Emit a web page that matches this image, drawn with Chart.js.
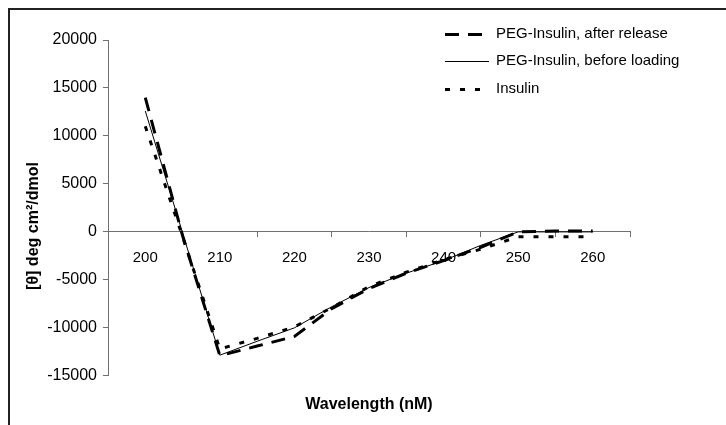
<!DOCTYPE html>
<html>
<head>
<meta charset="utf-8">
<script src="https://cdn.jsdelivr.net/npm/chart.js"></script>
<style>
  html, body { margin: 0; padding: 0; background: #fff; }
  #wrap { width: 726px; height: 425px; }
</style>
</head>
<body>
<div id="wrap"><canvas id="grafico" width="726" height="425"></canvas></div>
<script>
// ------ Dados ------
const comprimentos = [200, 205, 210, 215, 220, 225, 230, 235, 240, 245, 250, 255, 260];
const aposLiberacao = [14000, -400, -12900, -11900, -10900, -8000, -5900, -4300, -3000, -1600, 0, 100, 100];
const antesCarga = [12600, -100, -12850, -11400, -10000, -7800, -5800, -4300, -3000, -1400, 0, 0, 0];
const insulina = [11000, -500, -12200, -11100, -9900, -7900, -5700, -4200, -2900, -1800, -500, -500, -500];
const nomesSeries = ["PEG-Insulin, after release", "PEG-Insulin, before loading", "Insulin"];
const tituloY = "[θ] deg cm²/dmol";
const tituloX = "Wavelength (nM)";

const FONTE = "'Liberation Sans', Arial, sans-serif";
const CINZA = "#707070";

function pontos(valores) {
  return comprimentos.map((x, i) => ({ x: x, y: valores[i] }));
}

// moldura (só esquerda e topo aparecem no recorte)
const moldura = {
  id: "moldura",
  beforeDraw(chart) {
    const c = chart.ctx;
    c.save();
    c.strokeStyle = "#222";
    c.lineWidth = 2;
    c.beginPath();
    c.moveTo(9, 425);
    c.lineTo(9, 9);
    c.lineTo(726, 9);
    c.stroke();
    c.restore();
  },
};

// título do eixo Y, um pouco abaixo do centro como no original
const tituloEixoY = {
  id: "tituloEixoY",
  afterDraw(chart) {
    const c = chart.ctx;
    c.save();
    c.translate(34, 226);
    c.rotate(-Math.PI / 2);
    c.fillStyle = "#000";
    c.font = "bold 16px " + FONTE;
    c.textAlign = "center";
    c.textBaseline = "middle";
    c.fillText(tituloY, 0, 0);
    c.restore();
  },
};

// legenda desenhada à mão, no canto superior direito
const legenda = {
  id: "legenda",
  afterDraw(chart) {
    const c = chart.ctx;
    const linhas = [34, 61, 89];
    c.save();
    chart.data.datasets.forEach((ds, i) => {
      const y = linhas[i];
      // linha fina fica nítida no meio do pixel
      const yl = ds.borderWidth % 2 === 1 ? y + 0.5 : y;
      c.strokeStyle = ds.borderColor;
      c.lineWidth = ds.borderWidth;
      c.setLineDash(ds.borderDash || []);
      c.beginPath();
      c.moveTo(445, yl);
      c.lineTo(489, yl);
      c.stroke();
      c.setLineDash([]);
      c.fillStyle = "#000";
      c.font = "15px " + FONTE;
      c.textBaseline = "middle";
      c.fillText(ds.label, 496, y);
    });
    c.restore();
  },
};

new Chart(document.getElementById("grafico"), {
  type: "line",
  data: {
    datasets: [
      {
        label: nomesSeries[0],
        data: pontos(aposLiberacao),
        borderColor: "#000",
        borderWidth: 3,
        borderDash: [14, 9],
        pointRadius: 0,
      },
      {
        label: nomesSeries[1],
        data: pontos(antesCarga),
        borderColor: "#000",
        borderWidth: 1,
        pointRadius: 0,
      },
      {
        label: nomesSeries[2],
        data: pontos(insulina),
        borderColor: "#000",
        borderWidth: 3,
        borderDash: [5, 10],
        pointRadius: 0,
      },
    ],
  },
  options: {
    responsive: false,
    animation: false,
    devicePixelRatio: 1,
    layout: { padding: { top: 40, right: 96, bottom: 4, left: 0 } },
    plugins: { legend: { display: false }, tooltip: { enabled: false } },
    scales: {
      x: {
        type: "linear",
        position: { y: 0 },
        min: 195,
        max: 265,
        ticks: {
          stepSize: 5,
          autoSkip: false,
          maxRotation: 0,
          padding: 12,
          color: "#000",
          font: { family: FONTE, size: 15 },
          callback: (v) => (v % 10 === 0 ? String(v) : ""),
        },
        grid: {
          drawOnChartArea: false,
          tickLength: 5,
          tickColor: (ctx) => (ctx.tick && ctx.tick.value % 10 === 5 ? CINZA : "rgba(0,0,0,0)"),
        },
        border: { color: CINZA, width: 1 },
      },
      x2: {
        type: "linear",
        position: "bottom",
        min: 195,
        max: 265,
        ticks: { display: false },
        grid: { display: false, drawTicks: false },
        border: { display: false },
        title: {
          display: true,
          text: tituloX,
          color: "#000",
          font: { family: FONTE, size: 16, weight: "bold" },
          padding: { top: 19, bottom: 7 },
        },
      },
      y: {
        min: -15000,
        max: 20000,
        afterFit: (s) => { s.width = 108; },
        ticks: {
          stepSize: 5000,
          padding: 6,
          color: "#000",
          font: { family: FONTE, size: 16 },
          callback: (v) => String(v),
        },
        grid: { drawOnChartArea: false, tickLength: 5, tickColor: CINZA },
        border: { color: CINZA, width: 1 },
      },
    },
  },
  plugins: [moldura, tituloEixoY, legenda],
});
</script>
</body>
</html>
